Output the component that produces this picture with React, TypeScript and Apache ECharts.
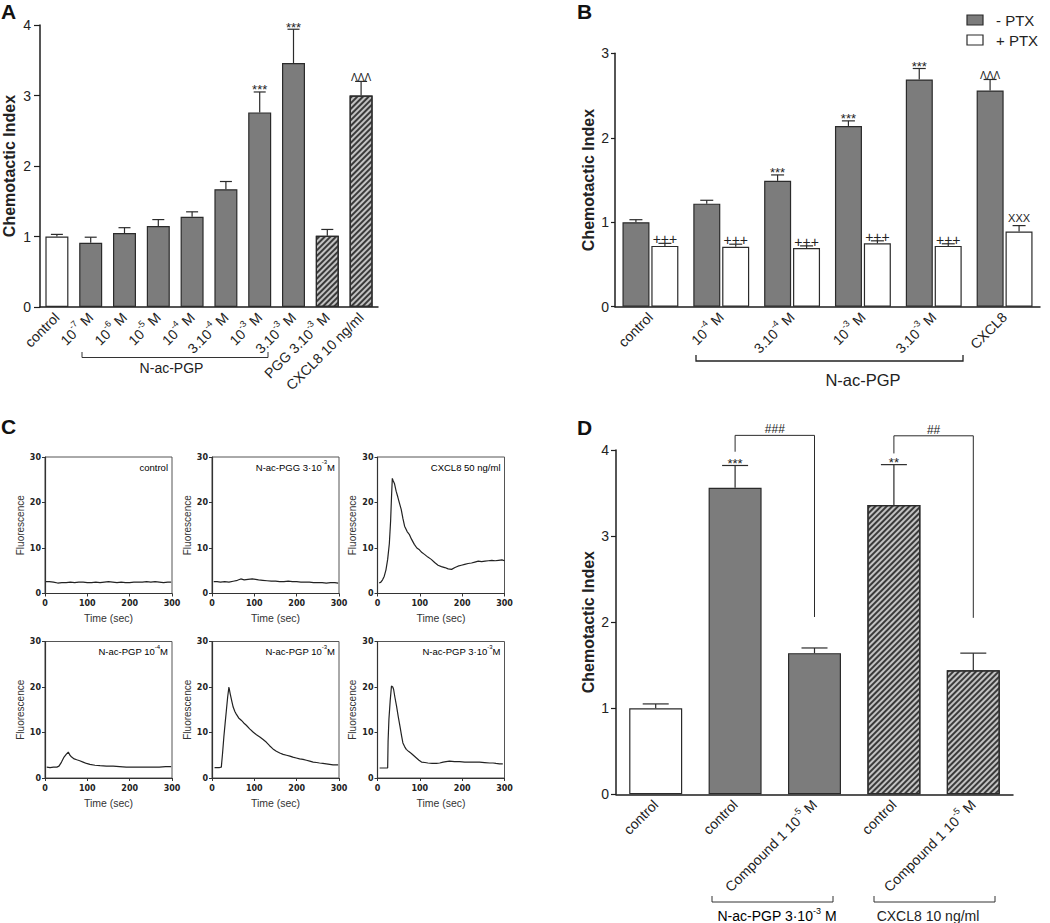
import React, { useEffect, useRef } from "react";
import * as echarts from "echarts";

const FONT = "'Liberation Sans', Arial, Helvetica, sans-serif";

// ---------- Panel A ----------
const catsA = ["control", "10^-7 M", "10^-6 M", "10^-5 M", "10^-4 M", "3.10^-4 M", "10^-3 M", "3.10^-3 M", "PGG 3.10^-3 M", "CXCL8 10 ng/ml"];
const groupA = ["control", "pgp", "pgp", "pgp", "pgp", "pgp", "pgp", "pgp", "ref", "ref"];
const valuesA = [1.0, 0.91, 1.05, 1.15, 1.28, 1.67, 2.76, 3.46, 1.01, 3.0];
const errTopA = [1.03, 0.99, 1.125, 1.24, 1.35, 1.78, 3.05, 3.94, 1.1, 3.2];
const notesA = ["", "", "", "", "", "", "***", "***", "", "ΛΛΛ"];
const yMaxA = 4;

// ---------- Panel B ----------
const catsB = ["control", "10^-4 M", "3.10^-4 M", "10^-3 M", "3.10^-3 M", "CXCL8"];
const minusPTX = [1.0, 1.22, 1.49, 2.14, 2.69, 2.56];
const minusPTXErr = [1.03, 1.26, 1.56, 2.2, 2.82, 2.69];
const minusNotes = ["", "", "***", "***", "***", "ΛΛΛ"];
const plusPTX = [0.72, 0.71, 0.695, 0.75, 0.72, 0.89];
const plusPTXErr = [0.75, 0.74, 0.72, 0.78, 0.745, 0.96];
const plusNotes = ["+++", "+++", "+++", "+++", "+++", "XXX"];
const yMaxB = 3;

// ---------- Panel D ----------
const catsD = ["control", "control", "Compound 1 10^-5 M", "control", "Compound 1 10^-5 M"];
const groupD = ["control", "pgp", "pgp", "ref", "ref"];
const valuesD = [1.0, 3.56, 1.64, 3.36, 1.44];
const errTopD = [1.05, 3.82, 1.7, 3.83, 1.64];
const notesD = ["", "***", "", "**", ""];
const sigFromD = [1, 3];
const sigToD = [2, 4];
const sigTopD = [4.17, 4.165];
const sigLeftEndD = [3.98, 3.96];
const sigRightEndD = [2.06, 2.05];
const sigLabelsD = ["###", "##"];
const yMaxD = 4;

// ---------- Panel C (calcium flux traces: [time s, fluorescence]) ----------
const traceControl = [[2, 2.6], [10, 2.6], [20, 2.5], [30, 2.3], [40, 2.4], [50, 2.4], [60, 2.5], [70, 2.4], [80, 2.5], [90, 2.5], [100, 2.4], [110, 2.4], [120, 2.5], [130, 2.4], [140, 2.5], [150, 2.6], [160, 2.5], [170, 2.4], [180, 2.5], [190, 2.4], [200, 2.4], [210, 2.5], [220, 2.5], [230, 2.5], [240, 2.6], [250, 2.5], [260, 2.6], [270, 2.5], [280, 2.4], [290, 2.5], [298, 2.5]];
const tracePGG = [[4, 2.6], [12, 2.6], [20, 2.5], [30, 2.6], [40, 2.5], [50, 2.7], [60, 2.9], [68, 3.2], [76, 3.0], [85, 3.1], [95, 3.2], [103, 3.1], [110, 3.0], [120, 2.9], [130, 2.8], [140, 2.7], [150, 2.7], [160, 2.6], [170, 2.6], [180, 2.7], [190, 2.6], [200, 2.6], [210, 2.5], [220, 2.5], [230, 2.5], [240, 2.4], [250, 2.4], [260, 2.4], [270, 2.3], [280, 2.4], [290, 2.4], [298, 2.3]];
const traceCXCL8 = [[4, 2.3], [8, 2.5], [12, 3.0], [16, 3.8], [20, 5.2], [24, 7.5], [28, 11], [31, 16], [33, 21], [35, 25.3], [37, 24.8], [40, 24.2], [44, 22.5], [48, 21.2], [52, 19.8], [56, 18.5], [60, 16.5], [64, 14.8], [70, 13.6], [75, 13.0], [80, 12.0], [87, 10.8], [93, 10.0], [99, 9.6], [105, 9.0], [111, 8.6], [119, 8.0], [127, 7.5], [135, 6.8], [143, 6.2], [151, 5.9], [159, 5.7], [167, 5.4], [175, 5.3], [183, 5.7], [190, 6.0], [198, 6.2], [206, 6.4], [214, 6.6], [222, 6.7], [230, 6.9], [238, 7.1], [246, 7.0], [254, 7.1], [262, 7.2], [270, 7.3], [278, 7.2], [286, 7.3], [294, 7.4], [300, 7.2]];
const tracePGP4 = [[4, 2.4], [12, 2.3], [20, 2.4], [28, 2.4], [33, 2.6], [39, 3.5], [45, 4.6], [50, 5.2], [55, 5.7], [59, 5.0], [63, 4.6], [69, 4.2], [75, 4.0], [82, 3.8], [90, 3.5], [98, 3.2], [106, 3.0], [118, 2.8], [130, 2.7], [145, 2.6], [161, 2.6], [176, 2.5], [192, 2.4], [208, 2.4], [224, 2.4], [240, 2.4], [255, 2.4], [270, 2.4], [285, 2.5], [298, 2.5]];
const tracePGP3 = [[6, 2.3], [12, 2.3], [18, 2.3], [22, 2.4], [25, 5.5], [28, 9.0], [31, 12.0], [34, 14.9], [37, 17.8], [40, 20.0], [43, 18.5], [47, 16.8], [50, 15.6], [54, 14.6], [57, 14.1], [63, 13.2], [69, 12.7], [75, 12.1], [81, 11.6], [89, 10.8], [97, 10.1], [105, 9.5], [113, 9.0], [120, 8.5], [128, 7.9], [136, 7.1], [144, 6.4], [152, 5.9], [160, 5.5], [168, 5.2], [176, 5.0], [184, 4.8], [191, 4.6], [199, 4.4], [207, 4.2], [215, 4.1], [223, 3.9], [231, 3.7], [239, 3.5], [247, 3.4], [254, 3.3], [262, 3.2], [270, 3.1], [278, 3.0], [286, 2.9], [298, 2.9]];
const tracePGP3x3 = [[5, 2.2], [12, 2.2], [18, 2.2], [24, 2.2], [25, 8.0], [27, 12.9], [30, 17.0], [33, 20.2], [36, 20.0], [38, 19.5], [41, 17.8], [45, 15.8], [49, 13.5], [53, 11.4], [57, 9.2], [60, 7.7], [64, 6.9], [68, 6.3], [74, 5.8], [80, 5.4], [86, 4.9], [92, 4.4], [98, 3.9], [104, 3.5], [112, 3.4], [119, 3.3], [129, 3.2], [139, 3.2], [147, 3.3], [155, 3.5], [162, 3.6], [170, 3.7], [182, 3.6], [194, 3.6], [206, 3.5], [218, 3.5], [230, 3.5], [241, 3.5], [253, 3.4], [265, 3.3], [273, 3.3], [280, 3.2], [288, 3.1], [296, 3.1]];
const traces = [traceControl, tracePGG, traceCXCL8, tracePGP4, tracePGP3, tracePGP3x3];
const traceTitles = ["control", "N-ac-PGG 3·10^-3M", "CXCL8 50 ng/ml", "N-ac-PGP 10^-4M", "N-ac-PGP 10^-3M", "N-ac-PGP 3·10^-3M"];
const timeMax = 300;
const fluoMax = 30;

// ---------- helpers ----------
const toRich = (s: string) =>
  s
    .split(/(\^-?\d+)/)
    .filter((p) => p.length > 0)
    .map((p) => (p.startsWith("^") ? `{s|${p.slice(1)}}` : `{n|${p}}`))
    .join("");

const richFor = (size: number) => ({
  n: { fontSize: size, fontFamily: FONT, color: "#222", lineHeight: size + 6 },
  s: { fontSize: Math.round(size * 0.66), fontFamily: FONT, color: "#222", lineHeight: Math.round(size * 0.6), verticalAlign: "top" },
});

const noteStyle = (n: string) => {
  if (n.includes("*")) return { size: 13, dy: 2 };
  if (n.includes("+")) return { size: 14, dy: 4 };
  if (n.includes("X")) return { size: 11, dy: 8 };
  if (n.includes("Λ")) return { size: 10, dy: 3.5 };
  return { size: 12, dy: 6 };
};

const STROKE = "#2b2b2b";

const hatch = {
  symbol: "rect",
  symbolSize: 1,
  color: "#3a3a3a",
  dashArrayX: [1, 0],
  dashArrayY: [1.1, 1.9],
  rotation: -Math.PI / 4,
};

const barStyle = (g: string) => {
  if (g === "control") return { color: "#ffffff", borderColor: STROKE, borderWidth: 1.2 };
  if (g === "pgp") return { color: "#7c7c7c", borderColor: STROKE, borderWidth: 1.2 };
  return { color: "#c2c2c2", borderColor: STROKE, borderWidth: 1.2, decal: hatch };
};

function errorSeries(axis: number, values: number[], tops: number[], notes: string[], offset: number, capW: number) {
  return {
    type: "custom",
    xAxisIndex: axis,
    yAxisIndex: axis,
    z: 10,
    silent: true,
    data: values.map((v, i) => [i, v, tops[i]]),
    renderItem: (params: any, api: any) => {
      const i = api.value(0);
      const p0 = api.coord([i, api.value(1)]);
      const p1 = api.coord([i, api.value(2)]);
      const x = p0[0] + offset;
      const children: any[] = [
        { type: "line", shape: { x1: x, y1: p0[1], x2: x, y2: p1[1] }, style: { stroke: STROKE, lineWidth: 1.2 } },
        { type: "line", shape: { x1: x - capW / 2, y1: p1[1], x2: x + capW / 2, y2: p1[1] }, style: { stroke: STROKE, lineWidth: 1.2 } },
      ];
      const note = notes[params.dataIndex];
      if (note) {
        const ns = noteStyle(note);
        children.push({
          type: "text",
          x,
          y: p1[1] - ns.dy,
          style: { text: note, fontSize: ns.size, fontFamily: FONT, fill: "#222", align: "center", verticalAlign: "middle" },
        });
      }
      return { type: "group", children };
    },
  };
}

function sigSeries(axis: number) {
  return {
    type: "custom",
    xAxisIndex: axis,
    yAxisIndex: axis,
    z: 10,
    silent: true,
    data: sigFromD.map((f, i) => [f, sigToD[i], sigTopD[i], sigLeftEndD[i], sigRightEndD[i]]),
    renderItem: (params: any, api: any) => {
      const a = api.coord([api.value(0), api.value(2)]);
      const b = api.coord([api.value(1), api.value(2)]);
      const la = api.coord([api.value(0), api.value(3)]);
      const rb = api.coord([api.value(1), api.value(4)]);
      const label = sigLabelsD[params.dataIndex];
      const ns = noteStyle(label);
      return {
        type: "group",
        children: [
          {
            type: "polyline",
            shape: { points: [[a[0], la[1]], [a[0], a[1]], [b[0], b[1]], [b[0], rb[1]]] },
            style: { stroke: STROKE, lineWidth: 1, fill: null },
          },
          {
            type: "text",
            x: (a[0] + b[0]) / 2,
            y: a[1] - ns.dy,
            style: { text: label, fontSize: ns.size, fontFamily: FONT, fill: "#222", align: "center", verticalAlign: "middle" },
          },
        ],
      };
    },
  };
}

const axisLineStyle = { color: "#1e1e1e", width: 1.5 };

function bigYAxis(grid: number, max: number, nameGap: number, margin: number, tickLen: number, size: number) {
  return {
    type: "value",
    gridIndex: grid,
    min: 0,
    max,
    interval: 1,
    splitLine: { show: false },
    axisLine: { show: true, lineStyle: axisLineStyle },
    axisTick: { show: true, length: tickLen, lineStyle: { color: "#1e1e1e", width: 1.2 } },
    axisLabel: { fontSize: size, fontFamily: FONT, color: "#222", margin },
    name: "Chemotactic Index",
    nameLocation: "middle",
    nameGap,
    nameTextStyle: { fontSize: 16, fontWeight: "bold", fontFamily: FONT, color: "#222" },
  };
}

function bigXAxis(grid: number, cats: string[], size: number, margin: number) {
  return {
    type: "category",
    gridIndex: grid,
    data: cats,
    axisLine: { show: true, lineStyle: axisLineStyle },
    axisTick: { show: false },
    axisLabel: {
      interval: 0,
      rotate: 45,
      margin,
      formatter: (v: string) => toRich(v),
      rich: richFor(size),
    },
  };
}

const miniLefts = [45, 212, 377.5];
const miniTops = [457, 641.5];
const miniW = 127;
const miniH = 136.5;

export default function App() {
  const ref = useRef<HTMLDivElement>(null);
  useEffect(() => {
    if (!ref.current) return;
    const chart = echarts.init(ref.current, undefined, { renderer: "svg" });

    const grids: any[] = [
      { left: 38, top: 25, width: 340, height: 282 },
      { left: 615, top: 53.3, width: 425, height: 253.4 },
      { left: 616, top: 450, width: 397, height: 344.3 },
    ];
    const xAxes: any[] = [bigXAxis(0, catsA, 14, 8), bigXAxis(1, catsB, 14, 8), bigXAxis(2, catsD, 14, 8)];
    const yAxes: any[] = [bigYAxis(0, yMaxA, 23, 9, 6, 14), bigYAxis(1, yMaxB, 19, 6, 4, 14), bigYAxis(2, yMaxD, 20, 7, 5, 14)];
    const series: any[] = [
      {
        type: "bar",
        xAxisIndex: 0,
        yAxisIndex: 0,
        barWidth: 23,
        data: valuesA.map((v, i) => ({ value: v, itemStyle: barStyle(groupA[i]) })),
      },
      errorSeries(0, valuesA, errTopA, notesA, 0, 12),
      {
        type: "bar",
        name: "- PTX",
        xAxisIndex: 1,
        yAxisIndex: 1,
        barWidth: 27,
        barGap: "7%",
        itemStyle: barStyle("pgp"),
        data: minusPTX,
      },
      {
        type: "bar",
        name: "+ PTX",
        xAxisIndex: 1,
        yAxisIndex: 1,
        barWidth: 27,
        barGap: "7%",
        itemStyle: barStyle("control"),
        data: plusPTX,
      },
      errorSeries(1, minusPTX, minusPTXErr, minusNotes, -14.5, 13),
      errorSeries(1, plusPTX, plusPTXErr, plusNotes, 14.5, 13),
      {
        type: "bar",
        xAxisIndex: 2,
        yAxisIndex: 2,
        barWidth: 53,
        data: valuesD.map((v, i) => ({ value: v, itemStyle: barStyle(groupD[i]) })),
      },
      errorSeries(2, valuesD, errTopD, notesD, 0, 26),
      sigSeries(2),
    ];

    const graphics: any[] = [
      { type: "text", x: 1, y: 1, style: { text: "A", fontSize: 21, fontWeight: "bold", fontFamily: FONT, fill: "#111" } },
      { type: "text", x: 577, y: 1, style: { text: "B", fontSize: 21, fontWeight: "bold", fontFamily: FONT, fill: "#111" } },
      { type: "text", x: 1, y: 416, style: { text: "C", fontSize: 21, fontWeight: "bold", fontFamily: FONT, fill: "#111" } },
      { type: "text", x: 577, y: 417, style: { text: "D", fontSize: 21, fontWeight: "bold", fontFamily: FONT, fill: "#111" } },
      // Panel A bracket
      { type: "polyline", shape: { points: [[82, 352], [82, 357.5], [268, 357.5], [268, 352]] }, style: { stroke: "#333", lineWidth: 1, fill: null } },
      { type: "text", x: 171.5, y: 368, style: { text: "N-ac-PGP", fontSize: 14, fontFamily: FONT, fill: "#222", align: "center", verticalAlign: "middle" } },
      // Panel B bracket
      { type: "polyline", shape: { points: [[696, 355], [696, 361], [963, 361], [963, 355]] }, style: { stroke: "#222", lineWidth: 1.3, fill: null } },
      { type: "text", x: 863, y: 380, style: { text: "N-ac-PGP", fontSize: 16.5, fontFamily: FONT, fill: "#222", align: "center", verticalAlign: "middle" } },
      // Panel B legend
      { type: "rect", shape: { x: 967, y: 15, width: 16, height: 10 }, style: { fill: "#7c7c7c", stroke: STROKE, lineWidth: 1.2 } },
      { type: "text", x: 996, y: 20.5, style: { text: "- PTX", fontSize: 15, fontFamily: FONT, fill: "#222", verticalAlign: "middle" } },
      { type: "rect", shape: { x: 967, y: 35, width: 16, height: 10 }, style: { fill: "#ffffff", stroke: STROKE, lineWidth: 1.2 } },
      { type: "text", x: 996, y: 40.5, style: { text: "+ PTX", fontSize: 15, fontFamily: FONT, fill: "#222", verticalAlign: "middle" } },
      // Panel D group brackets
      { type: "polyline", shape: { points: [[712, 896], [712, 902], [833, 902], [833, 896]] }, style: { stroke: "#333", lineWidth: 1, fill: null } },
      { type: "text", x: 777, y: 916, style: { text: toRich("N-ac-PGP 3·10^-3 M"), rich: richFor(14), align: "center", verticalAlign: "middle" } },
      { type: "polyline", shape: { points: [[874, 896], [874, 902], [995, 902], [995, 896]] }, style: { stroke: "#333", lineWidth: 1, fill: null } },
      { type: "text", x: 928, y: 916, style: { text: "CXCL8 10 ng/ml", fontSize: 14, fontFamily: FONT, fill: "#222", align: "center", verticalAlign: "middle" } },
    ];

    traces.forEach((tr, k) => {
      const gi = 3 + k;
      const left = miniLefts[k % 3];
      const top = miniTops[Math.floor(k / 3)];
      grids.push({ left, top, width: miniW, height: miniH, show: true, borderColor: "#555", borderWidth: 1, backgroundColor: "transparent" });
      xAxes.push({
        type: "value",
        gridIndex: gi,
        min: 0,
        max: timeMax,
        interval: 100,
        splitLine: { show: false },
        axisLine: { show: true, lineStyle: { color: "#333", width: 1.2 } },
        axisTick: { show: true, length: 3, lineStyle: { color: "#333" } },
        axisLabel: { fontSize: 8, fontWeight: "bold", fontFamily: "'DejaVu Sans', sans-serif", color: "#222", margin: 6 },
        name: "Time (sec)",
        nameLocation: "middle",
        nameGap: 19,
        nameTextStyle: { fontSize: 10.5, fontFamily: FONT, color: "#333" },
      });
      yAxes.push({
        type: "value",
        gridIndex: gi,
        min: 0,
        max: fluoMax,
        interval: 10,
        splitLine: { show: false },
        axisLine: { show: true, lineStyle: { color: "#333", width: 1.2 } },
        axisTick: { show: true, length: 3, lineStyle: { color: "#333" } },
        axisLabel: { fontSize: 8, fontWeight: "bold", fontFamily: "'DejaVu Sans', sans-serif", color: "#222", margin: 4 },
        name: "Fluorescence",
        nameLocation: "middle",
        nameGap: 20,
        nameTextStyle: { fontSize: 10, fontFamily: FONT, color: "#333" },
      });
      series.push({
        type: "line",
        xAxisIndex: gi,
        yAxisIndex: gi,
        showSymbol: false,
        lineStyle: { color: "#222", width: 1.2 },
        data: tr,
      });
      graphics.push({
        type: "text",
        x: left + miniW - 4,
        y: top + 10,
        style: { text: toRich(traceTitles[k]), rich: richFor(9.5), align: "right", verticalAlign: "middle" },
      });
    });

    chart.setOption({
      animation: false,
      backgroundColor: "#ffffff",
      textStyle: { fontFamily: FONT },
      grid: grids,
      xAxis: xAxes,
      yAxis: yAxes,
      series,
      graphic: graphics,
    });
    return () => chart.dispose();
  }, []);

  return <div ref={ref} style={{ position: "absolute", left: 0, top: 0, width: 1050, height: 923, background: "#fff" }} />;
}
